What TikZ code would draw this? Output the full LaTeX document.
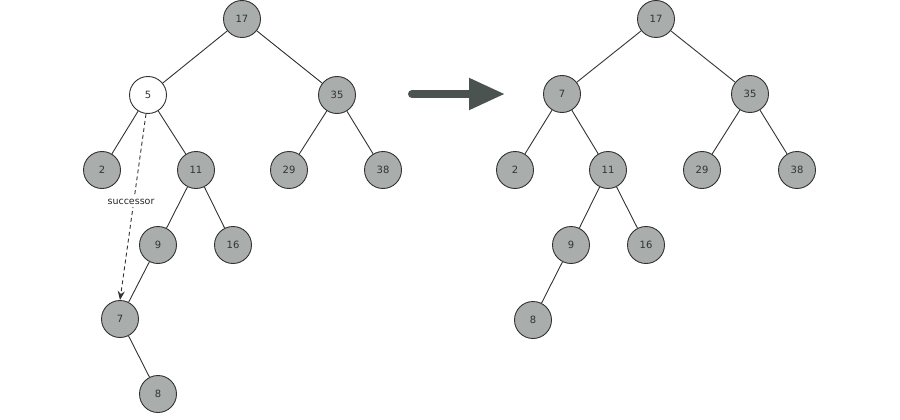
\documentclass[tikz,border=0pt]{standalone}
\usepackage{fontspec}
\setmainfont{DejaVu Sans}
\usetikzlibrary{arrows.meta}
\definecolor{nodefill}{HTML}{A9ADAB}
\definecolor{edgecol}{HTML}{333333}
\definecolor{bigarrow}{HTML}{4A5350}
\tikzset{
  tnode/.style={circle, draw=edgecol, line width=0.9pt, fill=nodefill, minimum size=37pt, inner sep=0pt, font=\fontsize{10}{12}\selectfont, text=black!80},
  wnode/.style={tnode, fill=white},
  edge/.style={draw=edgecol, line width=0.9pt},
}
\begin{document}
\begin{tikzpicture}[x=1pt,y=-1pt]
\useasboundingbox (0,0) rectangle (900,420);
\fill[white] (0,0) rectangle (900,420);
% left tree
\node[tnode] (a17) at (242,19) {17};
\node[wnode] (a5) at (148,95) {5};
\node[tnode] (a35) at (337,95) {35};
\node[tnode] (a2) at (102,170) {2};
\node[tnode] (a11) at (196,170) {11};
\node[tnode] (a29) at (289,170) {29};
\node[tnode] (a38) at (383,170) {38};
\node[tnode] (a9) at (158,245) {9};
\node[tnode] (a16) at (233,245) {16};
\node[tnode] (a7) at (120,319) {7};
\node[tnode] (a8) at (158,394) {8};
\draw[edge] (a17) -- (a5);
\draw[edge] (a17) -- (a35);
\draw[edge] (a5) -- (a2);
\draw[edge] (a5) -- (a11);
\draw[edge] (a35) -- (a29);
\draw[edge] (a35) -- (a38);
\draw[edge] (a11) -- (a9);
\draw[edge] (a11) -- (a16);
\draw[edge] (a9) -- (a7);
\draw[edge] (a7) -- (a8);
\draw[edge, dash pattern=on 4pt off 3pt, -{Stealth[length=9pt,width=7pt]}] (a5.south) ++(-2,0) coordinate (ds) -- (a7.north) coordinate (dt);
\node[fill=white, inner sep=2pt, font=\fontsize{9.5}{11}\selectfont, text=black!85] (lbl) at (131,202) {successor};
% big arrow
\node[inner sep=0pt] (arS) at (412,94) {};
\node[inner sep=0pt] (arE) at (505,94) {};
\draw[bigarrow, line width=8pt, line cap=round, -{Triangle[length=36pt,width=30pt]}] (arS.center) -- (arE.center);
% right tree
\node[tnode] (b17) at (656,19) {17};
\node[tnode] (b7) at (562,94) {7};
\node[tnode] (b35) at (750,94) {35};
\node[tnode] (b2) at (515,170) {2};
\node[tnode] (b11) at (608,170) {11};
\node[tnode] (b29) at (702,170) {29};
\node[tnode] (b38) at (797,170) {38};
\node[tnode] (b9) at (571,245) {9};
\node[tnode] (b16) at (646,245) {16};
\node[tnode] (b8) at (533,320) {8};
\draw[edge] (b17) -- (b7);
\draw[edge] (b17) -- (b35);
\draw[edge] (b7) -- (b2);
\draw[edge] (b7) -- (b11);
\draw[edge] (b35) -- (b29);
\draw[edge] (b35) -- (b38);
\draw[edge] (b11) -- (b9);
\draw[edge] (b11) -- (b16);
\draw[edge] (b9) -- (b8);
\end{tikzpicture}
\end{document}
